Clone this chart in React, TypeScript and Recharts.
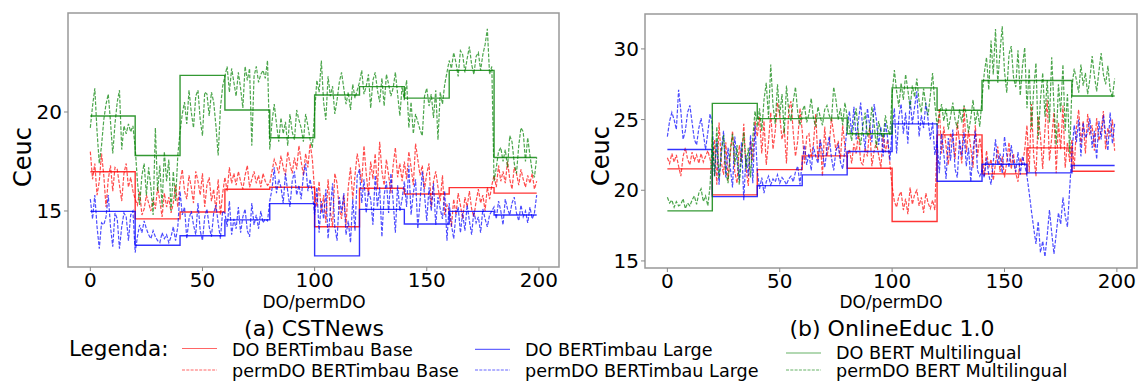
import { LineChart, Line, XAxis, YAxis, ReferenceArea } from "recharts";

// x positions where each DO block starts (blocks of 20 documents), last point closes the step
const BLOCK_STARTS = [0, 20, 40, 60, 80, 100, 120, 140, 160, 180];
const LAST_X = 199;
const X_TICKS = [0, 50, 100, 150, 200];

// ---------- (a) CSTNews ----------
const CST_Y_TICKS = [15, 20];
const CST_DO_BASE = [16.98, 14.6, 14.95, 16.1, 16.2, 14.2, 16.15, 15.86, 16.18, 15.9];
const CST_DO_LARGE = [14.98, 13.27, 13.75, 14.55, 15.37, 12.73, 15.08, 14.34, 14.98, 14.8];
const CST_DO_MULTI = [19.8, 17.8, 21.85, 20.1, 18.7, 20.86, 21.28, 20.7, 22.1, 17.7];

const CST_PERM_BASE = [
  18.0, 16.6, 17.4, 15.8, 16.5, 17.9, 16.8, 15.2, 16.6, 17.3, 16.0, 17.2, 17.1, 16.3, 15.5, 16.9, 17.4, 16.2, 16.7, 16.0,
  15.6, 15.3, 16.0, 14.8, 15.1, 15.8, 15.4, 15.0, 15.6, 15.1, 16.2, 15.5, 14.7, 15.9, 15.2, 15.7, 14.9, 15.4, 16.3, 15.2,
  16.4, 17.1, 16.0, 15.6, 16.8, 16.2, 15.4, 17.0, 16.5, 15.8, 16.9, 15.2, 16.3, 16.7, 15.5, 16.1, 15.0, 16.6, 14.8, 15.9,
  16.7, 16.0, 17.2, 16.4, 16.9, 16.3, 17.0, 16.5, 16.1, 16.8, 17.3, 16.2, 16.6, 17.0, 16.4, 16.8, 16.2, 16.9, 16.5, 16.3,
  16.4, 17.0, 17.6, 17.3, 16.9, 17.8, 17.2, 16.8, 18.0, 17.4, 16.9, 17.7, 17.1, 18.3, 17.5, 16.8, 17.9, 17.2, 18.4, 17.6,
  16.0, 15.2, 16.5, 14.9, 15.8, 14.4, 16.6, 15.0, 14.2, 16.9, 16.4, 15.1, 14.6, 15.8, 14.3, 16.2, 17.2, 15.6, 16.8, 17.9,
  17.2, 16.4, 18.3, 16.9, 15.8, 17.5, 16.6, 17.9, 16.1, 18.5, 17.0, 16.3, 17.6, 16.8, 15.9, 17.3, 18.2, 16.7, 17.4, 16.5,
  17.5, 16.6, 18.0, 17.2, 16.3, 18.4, 17.6, 16.8, 17.3, 16.1, 16.9, 17.4, 15.2, 16.5, 17.0, 16.2, 15.5, 16.8, 14.8, 15.3,
  15.0, 14.2, 15.6, 14.8, 15.9, 15.3, 14.6, 15.7, 15.2, 16.0, 15.1, 14.7, 15.5, 16.1, 15.4, 15.8, 15.0, 16.2, 15.6, 16.3,
  16.8, 16.2, 17.3, 16.5, 17.0, 16.4, 17.5, 16.6, 16.1, 17.2, 16.9, 16.3, 17.1, 16.6, 16.2, 16.8, 16.4, 16.9, 16.1, 16.5,
];
const CST_PERM_LARGE = [
  15.6, 14.6, 15.8, 14.2, 13.1, 14.4, 14.3, 14.7, 15.8, 14.2, 13.2, 14.9, 14.6, 13.1, 14.2, 14.9, 14.7, 13.5, 14.8, 15.0,
  12.9, 13.7, 14.3, 13.9, 14.5, 14.1, 13.8, 13.6, 14.0, 13.7, 13.5, 13.4, 13.9, 13.6, 13.8, 13.4, 13.7, 14.2, 13.5, 14.2,
  16.0, 14.8, 15.2, 13.6, 14.6, 15.0, 14.3, 13.8, 15.4, 14.0, 13.5, 14.7, 15.1, 14.2, 13.7, 14.9, 15.3, 14.4, 13.6, 15.0,
  14.9, 14.2, 15.5, 13.8, 14.6, 14.1, 15.2, 13.9, 14.7, 15.1, 14.0, 13.7, 15.4, 14.3, 14.8, 14.1, 15.0, 14.4, 14.6, 14.5,
  15.5, 16.1, 17.2, 15.9, 16.6, 16.2, 15.4, 16.9, 16.0, 15.2, 16.5, 17.0, 15.8, 16.3, 15.6, 16.8, 17.4, 16.0, 16.6, 15.9,
  14.8, 16.2, 13.9, 15.5, 14.6, 16.1, 13.6, 15.0, 16.4, 14.2, 13.5, 15.7, 14.9, 15.9, 13.8, 14.5, 13.4, 15.6, 14.0, 16.8,
  17.1, 15.4, 16.6, 14.9, 16.0, 15.6, 14.3, 16.8, 15.2, 16.2, 13.7, 15.8, 16.5, 14.9, 16.9, 15.5, 13.9, 16.3, 15.0, 15.6,
  16.5, 15.2, 17.3, 14.8, 15.9, 16.6, 14.1, 15.5, 17.0, 15.8, 14.5, 16.2, 15.0, 16.4, 14.3, 15.7, 15.1, 14.6, 16.0, 13.5,
  15.4, 14.3, 13.6, 14.8, 15.2, 13.9, 14.9, 14.0, 15.3, 14.5, 13.8, 15.0, 14.4, 14.7, 13.9, 15.1, 14.6, 14.2, 14.8, 15.0,
  15.2, 14.6, 15.5, 15.0, 14.3, 15.6, 15.1, 14.8, 15.4, 15.7, 14.9, 14.5, 15.3, 14.7, 15.0, 14.4, 15.2, 14.6, 14.9, 15.8,
];
const CST_PERM_MULTI = [
  19.2, 20.3, 21.2, 19.0, 17.4, 18.3, 19.6, 20.4, 20.9, 19.5, 17.9, 19.4, 20.5, 21.1, 18.1, 19.3, 18.9, 19.4, 19.0, 19.3,
  18.2, 16.5, 15.3, 16.8, 17.4, 15.8, 17.2, 16.2, 14.8, 19.2, 16.0, 17.3, 15.2, 18.0, 16.5, 17.6, 15.0, 17.0, 15.5, 17.8,
  19.0, 19.9, 20.5, 19.4, 21.1, 20.0, 19.2, 20.8, 21.1, 19.6, 18.8, 21.0, 20.9, 19.8, 21.0, 20.5, 19.3, 17.8, 20.2, 21.3,
  21.8, 22.3, 21.0, 22.2, 21.5, 20.8, 22.0, 21.2, 20.2, 22.3, 21.6, 22.2, 18.3, 21.8, 22.3, 21.5, 21.9, 22.1, 21.7, 22.6,
  18.1, 19.5, 20.4, 19.4, 18.5, 19.7, 18.9, 19.5, 18.3, 19.9, 19.0, 18.6, 20.1, 19.6, 19.2, 18.5, 19.9, 19.3, 18.6, 18.2,
  20.0, 21.6, 21.0, 22.6, 20.5, 19.6, 21.8, 20.8, 21.3, 19.9, 20.6, 21.5, 22.0, 21.2, 20.4, 21.0, 20.1, 21.4, 20.7, 21.1,
  21.5, 22.1, 20.9, 21.3, 21.9, 20.2, 21.6, 22.0, 21.1, 20.5, 21.7, 20.3, 21.9, 21.4, 20.8, 21.2, 22.0, 20.9, 19.8, 21.3,
  20.6, 21.6, 19.2, 20.5, 18.9, 19.9, 19.5, 19.1, 18.8, 20.8, 21.2, 20.3, 20.9, 19.7, 21.1, 18.6, 21.0, 20.4, 21.4, 22.0,
  22.6, 22.2, 23.0, 22.5, 21.8, 23.1, 22.9, 22.0, 22.7, 23.3, 22.4, 21.9, 22.8, 23.0, 22.1, 22.9, 23.4, 24.2, 21.9, 22.3,
  16.5, 17.2, 18.0, 18.2, 17.5, 18.1, 17.2, 18.8, 18.5, 17.4, 16.9, 18.3, 19.2, 19.0, 17.5, 18.7, 17.8, 17.0, 16.7, 17.7,
];

// ---------- (b) OnlineEduc 1.0 ----------
const EDU_Y_TICKS = [15, 20, 25, 30];
const EDU_DO_BASE = [21.51, 19.67, 21.46, 22.43, 21.56, 17.79, 23.92, 21.16, 23.0, 21.34];
const EDU_DO_LARGE = [22.88, 19.55, 20.33, 21.09, 22.74, 24.7, 20.64, 21.84, 21.23, 21.75];
const EDU_DO_MULTI = [18.54, 26.15, 25.07, 25.1, 24.0, 27.24, 25.66, 27.76, 27.76, 26.67];

const EDU_PERM_BASE = [
  22.3, 21.9, 22.6, 22.0, 22.5, 21.7, 21.0, 22.4, 23.0, 22.2, 21.8, 22.7, 22.1, 22.5, 21.9, 22.6, 22.0, 22.4, 22.8, 22.2,
  21.5, 23.6, 20.4, 24.8, 22.0, 21.1, 23.4, 20.7, 22.5, 24.2, 21.3, 20.5, 23.2, 22.0, 24.7, 21.6, 20.3, 23.5, 22.1, 24.9,
  23.8, 25.2, 22.6, 24.9, 21.8, 23.4, 25.5, 22.9, 24.2, 26.2, 25.3, 23.6, 24.4, 21.9, 25.7, 26.3, 24.1, 22.4, 23.5, 25.8,
  24.2, 21.9, 23.8, 24.0, 22.3, 23.3, 25.4, 22.1, 23.6, 21.0, 24.5, 22.4, 23.2, 25.1, 24.0, 22.8, 23.5, 22.2, 24.6, 23.1,
  22.3, 22.9, 21.9, 23.3, 22.6, 24.1, 22.0, 21.8, 23.0, 22.4, 24.5, 21.7, 22.8, 23.4, 22.5, 21.6, 23.9, 22.7, 23.6, 21.9,
  20.3, 19.2, 18.8, 19.6, 19.9, 18.6, 19.4, 18.3, 20.2, 19.0, 19.7, 20.0, 18.9, 19.5, 18.4, 19.8, 19.1, 18.7, 19.3, 18.6,
  23.4, 25.8, 22.6, 24.5, 23.1, 21.8, 24.0, 23.6, 22.2, 24.8, 23.3, 21.9, 25.9, 22.7, 24.2, 23.0, 21.6, 24.6, 22.4, 23.7,
  22.5, 21.0, 22.8, 21.6, 22.2, 20.7, 21.9, 23.1, 21.3, 22.4, 20.9, 22.0, 23.4, 21.5, 22.6, 21.2, 20.6, 22.3, 21.8, 22.9,
  24.6, 21.3, 26.1, 22.4, 21.0, 25.2, 23.8, 21.5, 24.3, 26.4, 22.1, 23.7, 25.5, 21.2, 24.8, 22.9, 26.0, 21.6, 23.4, 22.0,
  23.6, 21.5, 24.5, 25.7, 23.2, 24.9, 22.6, 25.4, 23.9, 24.6, 22.8, 25.1, 23.5, 24.2, 25.6, 22.9, 24.4, 23.8, 25.0, 22.8,
];
const EDU_PERM_LARGE = [
  23.8, 24.9, 25.5, 25.0, 24.3, 27.1, 25.6, 23.6, 24.2, 25.5, 26.0, 24.8, 23.6, 23.2, 24.4, 25.1, 24.0, 22.9, 24.1, 25.4,
  24.7, 21.0, 23.5, 20.4, 22.8, 24.2, 20.9, 23.0, 21.6, 20.2, 23.8, 22.1, 20.7, 23.4, 19.3, 22.5, 21.0, 23.9, 20.5, 24.6,
  21.4, 20.1, 20.9, 19.8, 20.6, 21.0, 20.4, 20.8, 20.6, 21.1, 20.5, 20.9, 20.7, 20.4, 20.8, 21.0, 20.6, 21.3, 21.7, 20.4,
  22.0, 23.2, 21.8, 22.6, 21.4, 23.1, 22.4, 21.9, 23.6, 22.7, 21.6, 22.9, 23.8, 22.3, 21.4, 22.8, 23.2, 22.0, 21.5, 22.9,
  24.5, 25.6, 24.0, 25.9, 23.6, 24.9, 26.2, 24.2, 22.9, 25.8, 24.6, 23.4, 26.1, 25.0, 23.2, 24.5, 22.4, 24.8, 23.7, 22.1,
  24.3, 25.8, 22.6, 25.2, 26.1, 24.0, 25.5, 23.3, 26.4, 24.7, 25.9, 27.0, 23.8, 25.3, 24.4, 26.2, 25.0, 23.6, 24.8, 22.5,
  23.5, 21.2, 24.0, 22.6, 20.8, 23.7, 22.1, 24.3, 21.5, 20.9, 23.6, 22.4, 24.1, 21.7, 23.0, 20.6, 22.8, 24.2, 21.4, 21.0,
  21.4, 20.9, 22.3, 21.1, 20.4, 22.0, 23.6, 21.8, 22.6, 21.2, 23.8, 22.5, 21.6, 23.2, 22.0, 21.3, 22.7, 21.1, 22.4, 21.8,
  21.0, 19.8, 18.5, 17.3, 16.2, 17.8, 15.6, 16.4, 15.3, 16.8, 18.6, 17.0, 15.5, 16.9, 18.4, 17.6, 19.5, 18.2, 17.4, 20.1,
  22.7, 24.6, 23.4, 25.0, 22.4, 24.8, 23.7, 24.1, 25.1, 23.0, 24.2, 22.2, 24.9, 23.6, 25.3, 24.0, 22.8, 25.5, 23.3, 24.7,
];
const EDU_PERM_MULTI = [
  19.5, 19.1, 19.3, 18.8, 19.2, 18.9, 19.0, 19.4, 18.7, 19.1, 18.9, 19.3, 19.6, 19.0, 19.8, 20.1, 19.2, 19.6, 18.9, 20.3,
  23.8, 21.0, 24.5, 20.8, 22.6, 23.9, 21.3, 20.5, 22.9, 24.0, 21.8, 23.2, 20.4, 22.5, 24.1, 21.5, 23.0, 20.9, 23.7, 25.6,
  24.5, 25.8, 24.2, 26.4, 27.6, 25.1, 28.9, 26.0, 24.7, 27.5, 25.3, 26.8, 24.0, 27.4, 25.6, 24.9, 26.3, 27.3, 25.5, 24.6,
  25.6, 26.0, 24.8, 25.4, 26.5, 25.1, 24.5, 25.9, 25.2, 24.6, 25.7, 26.0, 25.3, 24.9, 27.3, 26.4, 25.0, 25.8, 24.6, 26.2,
  25.2, 24.4, 23.5, 24.8, 25.8, 24.0, 23.2, 24.6, 25.5, 23.8, 24.3, 25.9, 24.7, 23.0, 24.9, 24.1, 23.7, 25.3, 24.4, 23.9,
  26.8, 28.5, 27.0, 25.9, 27.6, 26.4, 28.2, 27.1, 25.8, 27.4, 26.6, 27.9, 26.3, 25.5, 27.2, 26.0, 25.3, 26.7, 28.3, 26.1,
  24.6, 25.3, 26.1, 24.9, 25.8, 24.3, 25.2, 26.2, 25.0, 24.4, 25.7, 24.8, 26.0, 25.4, 24.1, 25.1, 26.4, 24.7, 25.6, 24.5,
  26.5, 28.3, 29.4, 27.1, 30.6, 28.2, 31.4, 27.6, 29.8, 31.6, 28.4, 26.9, 29.6, 30.2, 28.0, 27.3, 29.9, 26.7, 28.8, 30.1,
  25.8, 28.6, 24.3, 27.2, 29.0, 23.6, 26.4, 28.3, 25.2, 27.8, 24.8, 29.4, 26.0, 23.2, 27.5, 25.5, 28.9, 24.2, 26.8, 22.6,
  27.3, 28.6, 27.8, 26.9, 28.9, 27.4, 28.3, 26.8, 27.9, 29.5, 28.1, 27.0, 28.4, 29.7, 28.2, 27.5, 28.8, 27.1, 26.6, 27.9,
];

const RED = "#ff0000";
const BLUE = "#0000ff";
const GREEN = "#008000";
const FONT = "'DejaVu Sans', sans-serif";
const DASH = "3.7 1.6";

type Pt = { x: number; y: number };

function toSteps(values: number[]): Pt[] {
  const pts = BLOCK_STARTS.map((x, i) => ({ x, y: values[i] }));
  pts.push({ x: LAST_X, y: values[values.length - 1] });
  return pts;
}

function toSeries(values: number[]): Pt[] {
  return values.map((y, i) => ({ x: i, y }));
}

type PanelProps = {
  doBase: number[]; doLarge: number[]; doMulti: number[];
  permBase: number[]; permLarge: number[]; permMulti: number[];
  yDomain: [number, number];
  yTicks: number[];
  width: number;
  yAxisWidth: number;
  margin: { top: number; right: number; bottom: number; left: number };
};

function Panel({ doBase, doLarge, doMulti, permBase, permLarge, permMulti, yDomain, yTicks, width, yAxisWidth, margin }: PanelProps) {
  const xDomain: [number, number] = [-9.95, 208.95];
  const tickStyle = { fontSize: 20, fill: "#000", fontFamily: FONT };
  const series = [
    { key: "doBase", data: toSteps(doBase), color: RED, dashed: false },
    { key: "permBase", data: toSeries(permBase), color: RED, dashed: true },
    { key: "doLarge", data: toSteps(doLarge), color: BLUE, dashed: false },
    { key: "permLarge", data: toSeries(permLarge), color: BLUE, dashed: true },
    { key: "doMulti", data: toSteps(doMulti), color: GREEN, dashed: false },
    { key: "permMulti", data: toSeries(permMulti), color: GREEN, dashed: true },
  ];
  return (
    <LineChart width={width} height={300} margin={margin}>
      <XAxis
        type="number" dataKey="x" domain={xDomain} ticks={X_TICKS} allowDataOverflow
        tick={tickStyle} tickSize={4} tickMargin={2} axisLine={false} tickLine={{ stroke: "#888" }} height={30}
      />
      <YAxis
        type="number" dataKey="y" domain={yDomain} ticks={yTicks} allowDataOverflow
        tick={tickStyle} tickSize={4} tickMargin={2} axisLine={false} tickLine={{ stroke: "#888" }} width={yAxisWidth}
      />
      {series.map(s => (
        <Line
          key={s.key}
          data={s.data}
          dataKey="y"
          type={s.dashed ? "linear" : "stepAfter"}
          stroke={s.color}
          strokeOpacity={s.dashed ? 0.7 : 0.8}
          strokeWidth={s.dashed ? 1.2 : 1.4}
          strokeDasharray={s.dashed ? DASH : undefined}
          dot={false}
          activeDot={false}
          isAnimationActive={false}
        />
      ))}
      <ReferenceArea
        x1={xDomain[0]} x2={xDomain[1]} y1={yDomain[0]} y2={yDomain[1]}
        fill="none" stroke="#999" strokeWidth={1.5} ifOverflow="visible"
      />
    </LineChart>
  );
}

function LegendBlock() {
  const entries = [
    { label: "DO BERTimbau Base", color: RED, dashed: false, x: 182, y: 348.5, ty: 355.5 },
    { label: "permDO BERTimbau Base", color: RED, dashed: true, x: 182, y: 370, ty: 377 },
    { label: "DO BERTimbau Large", color: BLUE, dashed: false, x: 475, y: 349.3, ty: 356 },
    { label: "permDO BERTimbau Large", color: BLUE, dashed: true, x: 475, y: 370, ty: 377 },
    { label: "DO BERT Multilingual", color: GREEN, dashed: false, x: 786, y: 353, ty: 358.5 },
    { label: "permDO BERT Multilingual", color: GREEN, dashed: true, x: 786, y: 370, ty: 377 },
  ];
  return (
    <g fontFamily={FONT}>
      <text x={69} y={356} fontSize={21.5} fill="#000">Legenda:</text>
      {entries.map(e => (
        <g key={e.label}>
          <line x1={e.x} x2={e.x + 35} y1={e.y} y2={e.y} stroke={e.color} strokeOpacity={0.6}
            strokeWidth={1.2} strokeDasharray={e.dashed ? "3 1.3" : undefined} />
          <text x={e.x + 50} y={e.ty} fontSize={17.6} fill="#000">{e.label}</text>
        </g>
      ))}
    </g>
  );
}

export default function App() {
  return (
    <div style={{ position: "absolute", left: 0, top: 0, width: 1139, height: 381, background: "#fff", overflow: "hidden", fontFamily: FONT }}>
      <div style={{ position: "absolute", left: 0, top: 0 }}>
        <Panel
          doBase={CST_DO_BASE} doLarge={CST_DO_LARGE} doMulti={CST_DO_MULTI}
          permBase={CST_PERM_BASE} permLarge={CST_PERM_LARGE} permMulti={CST_PERM_MULTI}
          yDomain={[12.17, 25.0]} yTicks={CST_Y_TICKS}
          width={570} yAxisWidth={68} margin={{ top: 13, right: 11, bottom: 3, left: 0 }}
        />
      </div>
      <div style={{ position: "absolute", left: 570, top: 0 }}>
        <Panel
          doBase={EDU_DO_BASE} doLarge={EDU_DO_LARGE} doMulti={EDU_DO_MULTI}
          permBase={EDU_PERM_BASE} permLarge={EDU_PERM_LARGE} permMulti={EDU_PERM_MULTI}
          yDomain={[14.5, 32.47]} yTicks={EDU_Y_TICKS}
          width={569} yAxisWidth={75} margin={{ top: 14, right: 2, bottom: 2, left: 0 }}
        />
      </div>
      <svg width={1139} height={381} style={{ position: "absolute", left: 0, top: 0, pointerEvents: "none" }}>
        <g fontFamily={FONT} fill="#000">
          <text x={22.5} y={157} fontSize={24} textAnchor="middle" dominantBaseline="central" transform="rotate(-90 22.5 157)">Ceuc</text>
          <text x={601} y={156} fontSize={24} textAnchor="middle" dominantBaseline="central" transform="rotate(-90 601 156)">Ceuc</text>
          <text x={314} y={307.5} fontSize={17} textAnchor="middle">DO/permDO</text>
          <text x={891} y={307.5} fontSize={17} textAnchor="middle">DO/permDO</text>
          <text x={314} y={336} fontSize={22} textAnchor="middle">(a) CSTNews</text>
          <text x={892} y={336} fontSize={22} textAnchor="middle">(b) OnlineEduc 1.0</text>
        </g>
        <LegendBlock />
      </svg>
    </div>
  );
}
